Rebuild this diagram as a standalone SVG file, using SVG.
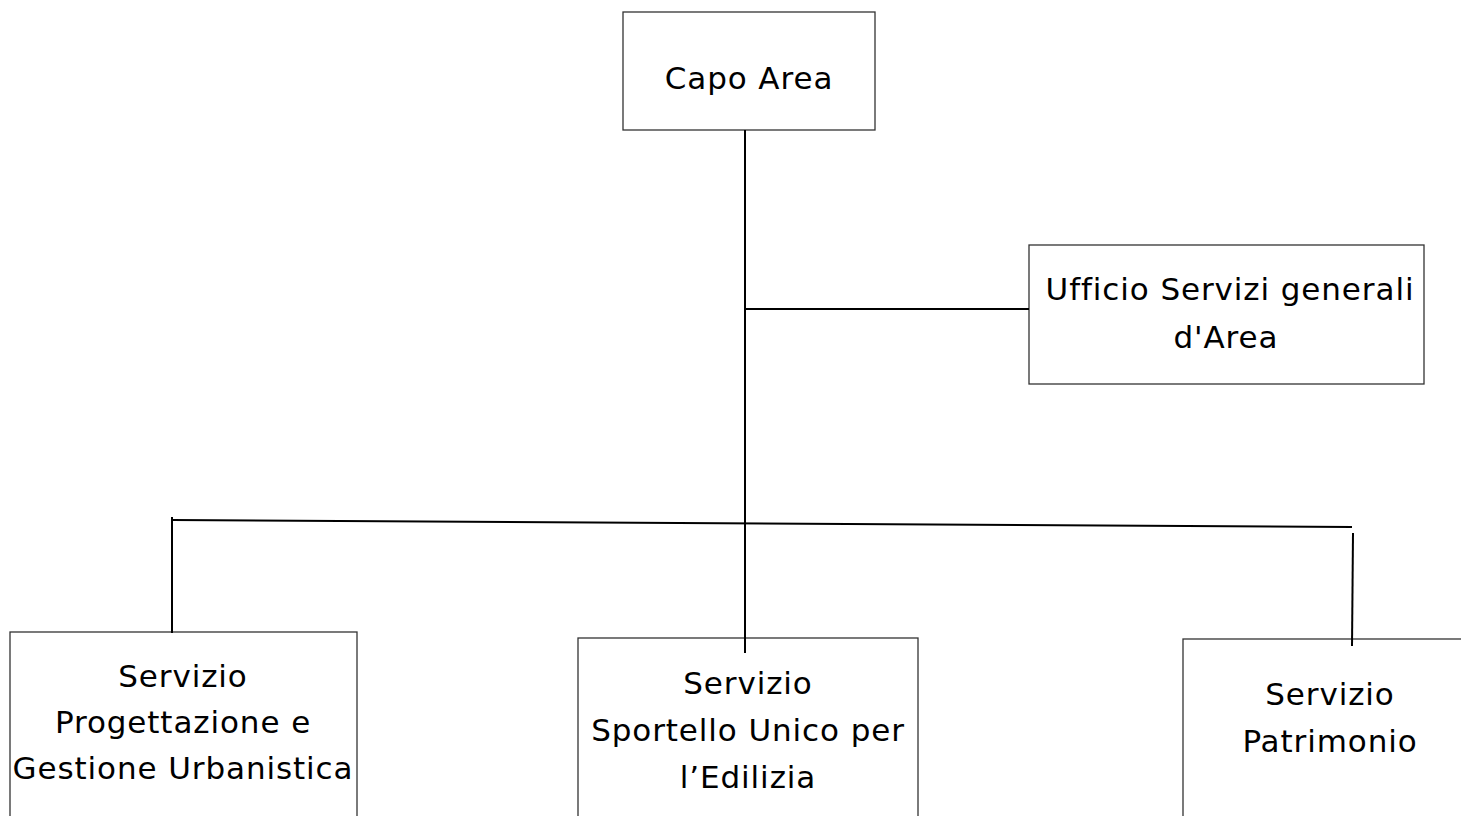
<svg xmlns="http://www.w3.org/2000/svg" width="1461" height="816" viewBox="0 0 1461 816">
<style>
.box{fill:#fff;stroke:#333;stroke-width:1.3}
.lbl{font-family:"DejaVu Sans",sans-serif;font-size:31px;letter-spacing:0.9px;fill:#000;text-anchor:middle}
.con line{stroke:#000;stroke-width:2}
</style>
<rect width="1461" height="816" fill="#fff"/>
<g id="capo-area">
<rect class="box" x="623" y="12" width="252" height="118"/>
<text class="lbl" x="749" y="89">Capo Area</text>
</g>
<g id="ufficio-servizi">
<rect class="box" x="1029" y="245" width="395" height="139"/>
<text class="lbl" x="1230" y="300">Ufficio Servizi generali</text>
<text class="lbl" x="1226" y="348">d'Area</text>
</g>
<g id="servizio-progettazione">
<rect class="box" x="10" y="632" width="347" height="200"/>
<text class="lbl" x="183" y="687">Servizio</text>
<text class="lbl" x="183" y="733">Progettazione e</text>
<text class="lbl" x="183" y="779">Gestione Urbanistica</text>
</g>
<g id="servizio-sportello">
<rect class="box" x="578" y="638" width="340" height="200"/>
<text class="lbl" x="748" y="694">Servizio</text>
<text class="lbl" x="748" y="741">Sportello Unico per</text>
<text class="lbl" x="748" y="788">l’Edilizia</text>
</g>
<g id="servizio-patrimonio">
<rect class="box" x="1183" y="639" width="300" height="200"/>
<text class="lbl" x="1330" y="705">Servizio</text>
<text class="lbl" x="1330" y="752">Patrimonio</text>
</g>
<g id="connectors" class="con">
<line x1="745" y1="130" x2="745" y2="653"/>
<line x1="745" y1="309" x2="1029" y2="309"/>
<line x1="172" y1="520" x2="1352" y2="527"/>
<line x1="172" y1="517" x2="172" y2="633"/>
<line x1="1353" y1="533" x2="1352" y2="646"/>
</g>
</svg>
